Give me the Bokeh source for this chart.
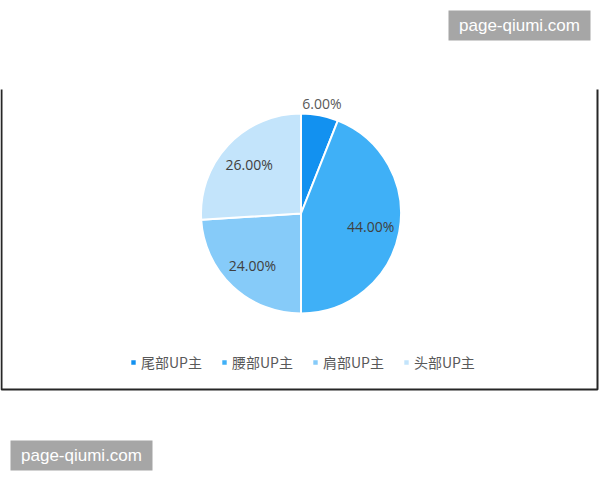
import math
from bokeh.plotting import figure
from bokeh.models import Range1d, Legend, LegendItem, ColumnDataSource
from bokeh.core.properties import value
from bokeh.embed import file_html
from bokeh.resources import INLINE

# ---- data ----
categories = ["尾部UP主", "腰部UP主", "肩部UP主", "头部UP主"]
shares = [6.0, 44.0, 24.0, 26.0]
labels = ["6.00%", "44.00%", "24.00%", "26.00%"]
colors = ["#1291f0", "#3fb0f7", "#86cbf9", "#c3e4fb"]
watermark = "page-qiumi.com"

# ---- layout (pixel-like coordinates, y up: data y = 480 - screen y) ----
W, H = 600, 480
p = figure(width=W, height=H, x_range=Range1d(0, W), y_range=Range1d(0, H),
           x_axis_type=None, y_axis_type=None, toolbar_location=None,
           output_backend="svg", min_border=0)
p.grid.visible = False
p.outline_line_color = None
p.background_fill_color = "white"
p.border_fill_color = "white"

cx, cy, R = 300.5, 480 - 213, 100

total = sum(shares)
starts, ends, lx, ly, lcol = [], [], [], [], []
acc = 0.0
for s in shares:
    a = acc / total * 360.0          # clockwise from 12 o'clock
    b = (acc + s) / total * 360.0
    starts.append(math.radians(90 - b))
    ends.append(math.radians(90 - a))
    m = math.radians((a + b) / 2)
    frac = s / total
    rr = R * (1.12 if frac < 0.1 else 0.71)
    lx.append(cx + rr * math.sin(m))
    ly.append(cy + rr * math.cos(m))
    lcol.append("#595959" if frac < 0.1 else "#404040")
    acc += s

src = ColumnDataSource(dict(cat=categories, start=starts, end=ends, color=colors,
                            lx=lx, ly=ly, label=labels, lcol=lcol))

wr = p.wedge(x=cx, y=cy, radius=R, start_angle="start", end_angle="end",
             direction="anticlock", fill_color="color", line_color="white",
             line_width=2, source=src)

p.text(x="lx", y="ly", text="label", source=src, text_align="center",
       text_baseline="middle", text_font=value("Open Sans"),
       text_font_size="14px", text_color="lcol")

# chart frame (left, bottom, right; top cut off)
p.line(x=[1, 1, 597, 597], y=[480 - 89, 480 - 389, 480 - 389, 480 - 89],
       line_color="#262626", line_width=2)

# legend
items = [LegendItem(label=c, renderers=[wr], index=i) for i, c in enumerate(categories)]
legend = Legend(items=items, orientation="horizontal", location=(129, 108),
                glyph_width=8, glyph_height=8, label_standoff=4, spacing=18,
                label_text_font="Noto Sans CJK SC", label_text_font_size="14px",
                label_text_color="#595959", border_line_alpha=0,
                background_fill_alpha=0, padding=0, margin=0)
p.add_layout(legend, "center")

# watermarks
wm_left = [448, 10]
wm_right = [590, 152]
wm_top = [480 - 10, 480 - 440]
wm_bottom = [480 - 40, 480 - 470]
p.quad(left=wm_left, right=wm_right, top=wm_top, bottom=wm_bottom,
       fill_color="#a6a6a6", line_color=None)
p.text(x=[(l + r) / 2 for l, r in zip(wm_left, wm_right)],
       y=[(t + b) / 2 for t, b in zip(wm_top, wm_bottom)],
       text=[watermark, watermark], text_align="center", text_baseline="middle",
       text_font=value("Liberation Sans"), text_font_size="17px", text_color="white")

open("out.html", "w").write(file_html(p, INLINE))
